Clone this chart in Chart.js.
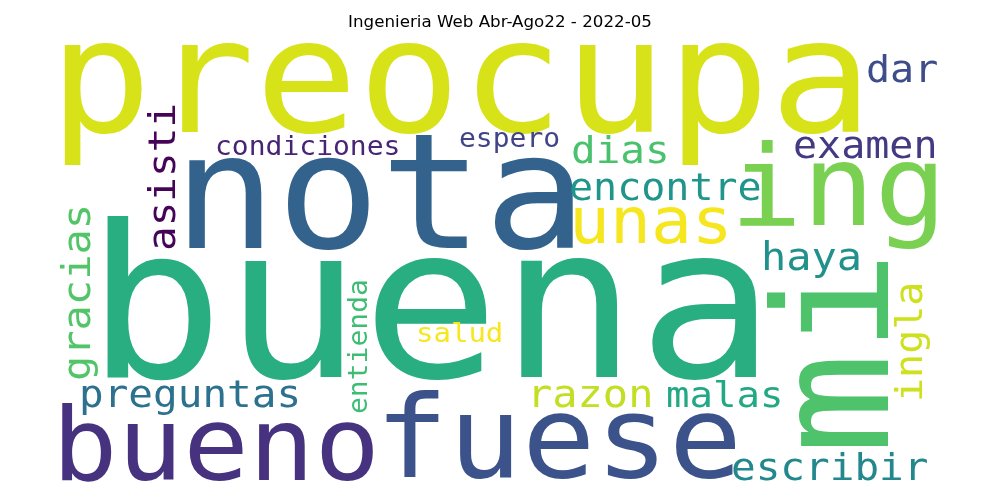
<!DOCTYPE html>
<html>
<head>
<meta charset="utf-8">
<script src="https://cdn.jsdelivr.net/npm/chart.js@4"></script>
<style>
  html, body { margin: 0; padding: 0; background: #fff; }
  #wrap { width: 1000px; height: 500px; }
</style>
</head>
<body>
<div id="wrap"><canvas id="cloud"></canvas></div>
<script>
// word cloud: each word placed at (x, y) in cloud units, the cloud is 900 x 450
const words = ['preocupa', 'nota', 'buena', 'ing', 'mi', 'bueno', 'fuese', 'unas',
  'dar', 'examen', 'dias', 'encontre', 'espero', 'condiciones', 'asisti', 'gracias',
  'haya', 'entienda', 'salud', 'preguntas', 'razon', 'malas', 'escribir', 'ingla']
const weights = [171, 172, 229, 120, 170, 109, 122, 68,
  40, 40, 41, 40, 28, 28, 41, 42,
  42, 28, 29, 41, 42, 39, 41, 40]
const posX = [-1, 123, 36, 680, 838, 2, 325, 519,
  816, 743, 521, 519, 409, 165, 125, 40,
  711, 317, 366, 29, 477, 616, 681, 872]
const posY = [95, 211, 340, 188, 418, 443, 440, 206,
  45, 121, 126, 163, 110, 118, 214, 344,
  233, 377, 305, 370, 370, 370, 443, 365]
const vertical = [false, false, false, false, true, false, false, false,
  false, false, false, false, false, false, true, true,
  false, true, false, false, false, false, false, true]

const colors = ['#d8e219', '#33638d', '#28ae80', '#7ad151', '#4ec36b', '#46327e', '#3b528b', '#f6e620',
  '#3e4c8a', '#443983', '#4ac16d', '#1f958b', '#414487', '#482475', '#450457', '#52c569',
  '#21918c', '#3dbc74', '#f8e621', '#2c718e', '#c2df23', '#22a884', '#23888e', '#cde11d']

const wordPlugin = {
  id: 'words',
  afterDatasetsDraw(chart) {
    const ctx = chart.ctx
    const meta = chart.getDatasetMeta(0)
    const unit = chart.chartArea.width / 900
    ctx.save()
    ctx.textAlign = 'left'
    ctx.textBaseline = 'alphabetic'
    meta.data.forEach((pt, i) => {
      ctx.font = (weights[i] * unit) + 'px "DejaVu Sans Mono"'
      ctx.fillStyle = colors[i]
      ctx.save()
      ctx.translate(pt.x, pt.y)
      if (vertical[i]) ctx.rotate(-Math.PI / 2)
      // the cloud's font is a bit lower in x-height than DejaVu
      ctx.scale(1, 0.93)
      ctx.fillText(words[i], 0, 0)
      ctx.restore()
    })
    ctx.restore()
  }
}

new Chart(document.getElementById('cloud'), {
  type: 'scatter',
  data: {
    datasets: [{
      data: words.map((w, i) => ({ x: posX[i], y: posY[i] })),
      pointRadius: 0,
      pointHoverRadius: 0
    }]
  },
  options: {
    responsive: true,
    maintainAspectRatio: false,
    animation: false,
    layout: { padding: { left: 50, right: 50, top: 0, bottom: 13 } },
    scales: {
      x: { type: 'linear', min: 0, max: 900, display: false },
      y: { type: 'linear', min: 0, max: 450, reverse: true, display: false }
    },
    plugins: {
      legend: { display: false },
      tooltip: { enabled: false },
      title: {
        display: true,
        text: 'Ingenieria Web Abr-Ago22 - 2022-05',
        color: '#000',
        font: { family: 'DejaVu Sans', size: 16.7, weight: 'normal', lineHeight: 1.2 },
        padding: { top: 13, bottom: 4 }
      }
    }
  },
  plugins: [wordPlugin]
})
</script>
</body>
</html>
